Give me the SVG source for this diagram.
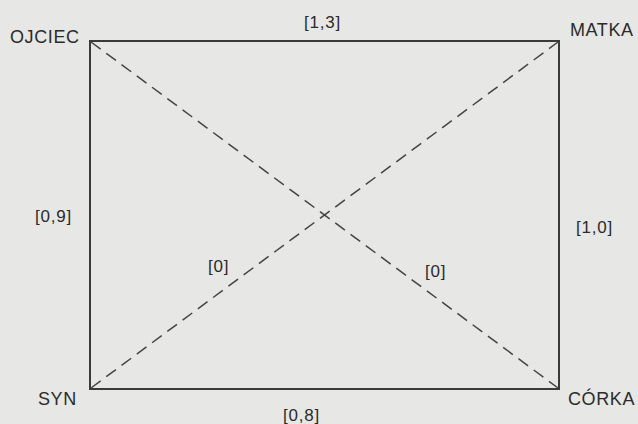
<svg xmlns="http://www.w3.org/2000/svg" width="638" height="424" viewBox="0 0 638 424">
<style>
text{font-family:"Liberation Sans",Arial,sans-serif;fill:#2b2b2b;font-size:18px}
.n{letter-spacing:0.6px}
.l{font-size:17px;letter-spacing:0.8px}
.edge{stroke:#3a3a3a;stroke-width:2;fill:none}
.diag{stroke:#444;stroke-width:1.5;stroke-dasharray:12 7;fill:none}
</style>
<rect width="638" height="424" fill="#e7e7e5"/>
<g id="connectors">
<line id="e-ojciec-matka" class="edge" x1="89" y1="41" x2="560" y2="41"/>
<line id="e-matka-corka" class="edge" x1="559" y1="40" x2="559" y2="390"/>
<line id="e-syn-corka" class="edge" x1="89" y1="389" x2="560" y2="389"/>
<line id="e-ojciec-syn" class="edge" x1="90" y1="40" x2="90" y2="390"/>
<line id="e-ojciec-corka" class="diag" x1="91" y1="42" x2="558" y2="388"/>
<line id="e-syn-matka" class="diag" x1="91" y1="388" x2="558" y2="42"/>
</g>
<g id="labels">
<text class="l" x="304" y="28">[1,3]</text>
<text class="l" x="35" y="222">[0,9]</text>
<text class="l" x="576" y="233">[1,0]</text>
<text class="l" x="283" y="421">[0,8]</text>
<text class="l" x="208" y="272">[0]</text>
<text class="l" x="425" y="277">[0]</text>
</g>
<g id="ojciec"><text class="n" x="10" y="43">OJCIEC</text></g>
<g id="matka"><text class="n" x="570" y="36">MATKA</text></g>
<g id="syn"><text class="n" x="38" y="405">SYN</text></g>
<g id="corka"><text class="n" x="568" y="405">CÓRKA</text></g>
</svg>
